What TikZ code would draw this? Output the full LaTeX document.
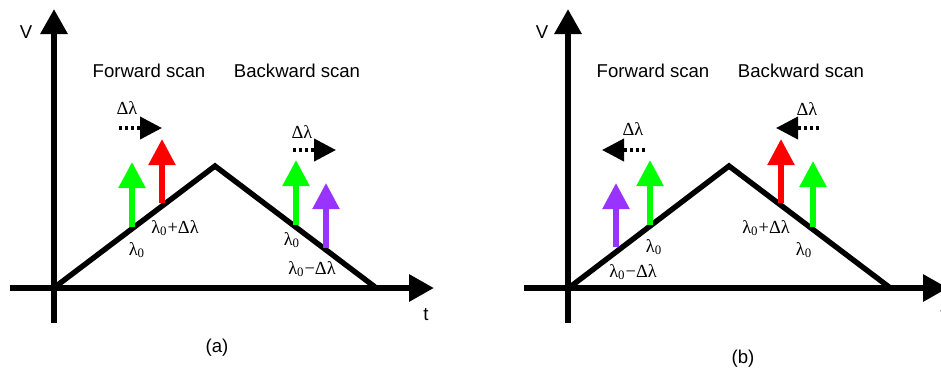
\documentclass[tikz,border=0pt]{standalone}
\usepackage{fontspec}
\setmainfont{Liberation Sans}
\newfontfamily\greekfont{Liberation Serif}
\usetikzlibrary{arrows.meta,positioning}
\definecolor{beamgreen}{RGB}{0,255,0}
\definecolor{beamred}{RGB}{255,0,0}
\definecolor{beampurple}{RGB}{153,51,255}
\newcommand{\lamz}{λ\textsubscript{0}}

\begin{document}
\begin{tikzpicture}[
    x=0.5pt, y=-0.5pt,
    axis/.style={line width=3pt, -{Triangle[length=12.5pt,width=13pt]}},
    ramp/.style={line width=2.7pt, line join=miter},
    beam/.style={line width=2.7pt, -{Triangle[length=13pt,width=13pt]}},
    shiftarrow/.style={line width=2pt, dash pattern=on 1.5pt off 1.5pt, -{Triangle[length=11pt,width=11pt]}},
    lbl/.style={font=\fontsize{9.3}{10}\selectfont, inner sep=0pt},
    glbl/.style={font=\greekfont\fontsize{9.2}{10}\selectfont, inner sep=0pt}
]
\useasboundingbox (0,0) rectangle (941,371);

% panel (a)
\coordinate (vbotA) at (54,323);
\coordinate (vtopA) at (54,9);
\coordinate (tlftA) at (10,288);
\coordinate (trgtA) at (434,288);
\draw[axis] (vbotA) -- (vtopA);
\draw[axis] (tlftA) -- (trgtA);
\node[lbl] (vA) at (26,32) {V};
\node[lbl] (tA) at (426,315) {t};
\coordinate (oA) at (55,287);
\coordinate (pkA) at (215,166);
\coordinate (endA) at (375,287);
\draw[ramp] (oA) -- (pkA) -- (endA);
\node[lbl] (fwdA) at (149,71) {Forward scan};
\node[lbl] (bwdA) at (297,71) {Backward scan};

\coordinate (g1bA) at (132,227); \coordinate (g1tA) at (132,162);
\coordinate (r1bA) at (162,203); \coordinate (r1tA) at (162,139);
\draw[beam, beamgreen] (g1bA) -- (g1tA);
\draw[beam, beamred] (r1bA) -- (r1tA);
\node[glbl] (dl1A) at (127,108) {Δλ};
\coordinate (s1fA) at (119,128); \coordinate (s1tA) at (162,128);
\draw[shiftarrow] (s1fA) -- (s1tA);
\node[glbl] (l1A) at (137,250) {\lamz};
\node[glbl] (l2A) at (175,228) {\lamz+Δλ};

\coordinate (g2bA) at (296,225); \coordinate (g2tA) at (296,160);
\coordinate (p2bA) at (326,248); \coordinate (p2tA) at (326,183);
\draw[beam, beamgreen] (g2bA) -- (g2tA);
\draw[beam, beampurple] (p2bA) -- (p2tA);
\node[glbl] (dl2A) at (302,132) {Δλ};
\coordinate (s2fA) at (293,150); \coordinate (s2tA) at (336,150);
\draw[shiftarrow] (s2fA) -- (s2tA);
\node[glbl] (l3A) at (292,240) {\lamz};
\node[glbl] (l4A) at (312,269) {\lamz−Δλ};
\node[lbl] (capA) at (217,348) {(a)};

% panel (b)
\coordinate (vbotB) at (568,323);
\coordinate (vtopB) at (568,9);
\coordinate (tlftB) at (524,288);
\coordinate (trgtB) at (948,288);
\draw[axis] (vbotB) -- (vtopB);
\draw[axis] (tlftB) -- (trgtB);
\node[lbl] (vB) at (542,32) {V};
\node[lbl] (tB) at (943,315) {t};
\coordinate (oB) at (570,287);
\coordinate (pkB) at (729,166);
\coordinate (endB) at (889,287);
\draw[ramp] (oB) -- (pkB) -- (endB);
\node[lbl] (fwdB) at (653,71) {Forward scan};
\node[lbl] (bwdB) at (801,71) {Backward scan};

\coordinate (p1bB) at (616,247); \coordinate (p1tB) at (616,183);
\coordinate (g1bB) at (650,225); \coordinate (g1tB) at (650,160);
\draw[beam, beampurple] (p1bB) -- (p1tB);
\draw[beam, beamgreen] (g1bB) -- (g1tB);
\node[glbl] (dl1B) at (633,129) {Δλ};
\coordinate (s1fB) at (645,150); \coordinate (s1tB) at (602,150);
\draw[shiftarrow] (s1fB) -- (s1tB);
\node[glbl] (l1B) at (654,247) {\lamz};
\node[glbl] (l2B) at (633,272) {\lamz−Δλ};

\coordinate (r2bB) at (781,203); \coordinate (r2tB) at (781,139);
\coordinate (g2bB) at (813,227); \coordinate (g2tB) at (813,161);
\draw[beam, beamred] (r2bB) -- (r2tB);
\draw[beam, beamgreen] (g2bB) -- (g2tB);
\node[glbl] (dl2B) at (807,109) {Δλ};
\coordinate (s2fB) at (819,128); \coordinate (s2tB) at (776,128);
\draw[shiftarrow] (s2fB) -- (s2tB);
\node[glbl] (l3B) at (766,228) {\lamz+Δλ};
\node[glbl] (l4B) at (804,250) {\lamz};
\node[lbl] (capB) at (743,359) {(b)};
\end{tikzpicture}
\end{document}
